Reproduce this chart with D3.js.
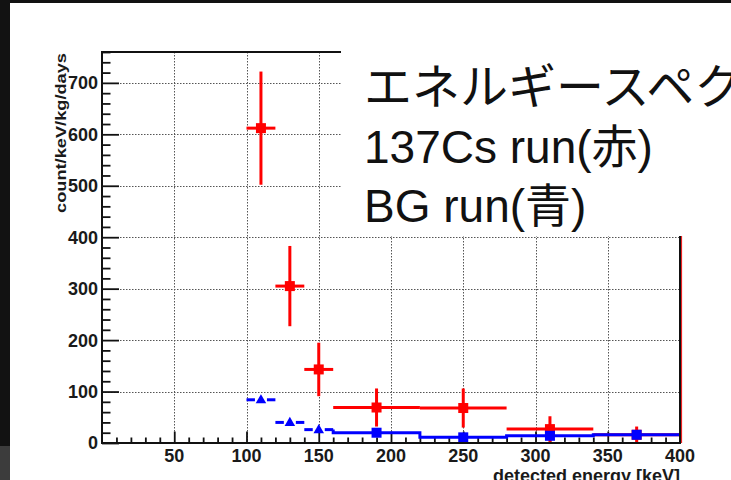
<!DOCTYPE html>
<html>
<head>
<meta charset="utf-8">
<script src="https://cdn.jsdelivr.net/npm/d3@7"></script>
<style>
  html, body { margin: 0; padding: 0; background: #fff; overflow: hidden; }
  svg { display: block; }
</style>
</head>
<body>
<svg id="chart"></svg>
<script>
// 137Cs run (red): bins and values
const redLo = [100, 120, 140, 160, 220, 280, 340]
const redHi = [120, 140, 160, 220, 280, 340, 400]
const redVal = [612, 305, 143, 69, 68, 27, 16]
const redErr = [110, 78, 52, 37, 38, 25, 16]

// BG run (blue)
const blueLo = [100, 120, 140, 160, 220, 280, 340]
const blueHi = [120, 140, 160, 220, 280, 340, 400]
const blueVal = [84, 40, 26, 20, 11, 14, 16]

const xTicks = [50, 100, 150, 200, 250, 300, 350, 400]
const yTicks = [0, 100, 200, 300, 400, 500, 600, 700]
const legendLines = ['エネルギースペクトル', '137Cs run(赤)', 'BG run(青)']

const width = 731
const height = 480
const frame = { left: 102, right: 680, top: 52, bottom: 443 }

const svg = d3.select('#chart').attr('width', width).attr('height', height)

// slide background edges
svg.append('rect').attr('x', 0).attr('y', 0).attr('width', width).attr('height', 3).attr('fill', '#111')
svg.append('rect').attr('x', 0).attr('y', 0).attr('width', 10).attr('height', height).attr('fill', '#121212')
svg.append('rect').attr('x', 0).attr('y', 446).attr('width', 10).attr('height', 34).attr('fill', '#3c3c3c')

const x = d3.scaleLinear().domain([0, 400]).range([frame.left, frame.right])
const y = d3.scaleLinear().domain([0, 760]).range([frame.bottom, frame.top])

const fontB = '"Liberation Sans", Arial, Helvetica, sans-serif'

// grid
const grid = svg.append('g').attr('stroke', '#555').attr('stroke-width', 1).attr('stroke-dasharray', '1.5,1.5')
grid.selectAll('.gx').data(xTicks.filter(d => d < 400)).enter().append('line')
    .attr('x1', d => Math.round(x(d)) + 0.5).attr('x2', d => Math.round(x(d)) + 0.5)
    .attr('y1', frame.top).attr('y2', frame.bottom)
grid.selectAll('.gy').data(yTicks.filter(d => d > 0)).enter().append('line')
    .attr('y1', d => Math.round(y(d)) + 0.5).attr('y2', d => Math.round(y(d)) + 0.5)
    .attr('x1', frame.left).attr('x2', frame.right)

// axes (ticks inside the frame)
const yAxis = d3.axisRight(y).tickValues(d3.range(0, 761, 20)).tickSize(0).tickFormat('')
const yg = svg.append('g').attr('transform', 'translate(' + frame.left + ',0)').call(yAxis)
yg.select('.domain').remove()
yg.selectAll('.tick line')
    .attr('x2', d => d % 100 === 0 ? 17 : 8.5)
    .attr('stroke', '#111').attr('stroke-width', 1.8)

const xAxis = d3.axisTop(x).tickValues(d3.range(10, 400, 10)).tickSize(0).tickFormat('')
const xg = svg.append('g').attr('transform', 'translate(0,' + frame.bottom + ')').call(xAxis)
xg.select('.domain').remove()
xg.selectAll('.tick line')
    .attr('y2', d => d % 50 === 0 ? -11.5 : -5.5)
    .attr('stroke', '#111').attr('stroke-width', 1.8)

// tick labels
svg.append('g').selectAll('text').data(yTicks).enter().append('text')
    .attr('x', 98).attr('y', d => y(d)).attr('dy', '0.36em')
    .attr('text-anchor', 'end').attr('font-family', fontB).attr('font-weight', 'bold')
    .attr('font-size', 18).attr('fill', '#1a1a1a').text(d => d)

svg.append('g').selectAll('text').data(xTicks).enter().append('text')
    .attr('x', d => x(d)).attr('y', 462)
    .attr('text-anchor', 'middle').attr('font-family', fontB).attr('font-weight', 'bold')
    .attr('font-size', 18).attr('fill', '#1a1a1a').text(d => d)

// axis titles
svg.append('text')
    .attr('transform', 'translate(66,53) rotate(-90)')
    .attr('text-anchor', 'end').attr('font-family', fontB).attr('font-weight', 'bold')
    .attr('font-size', 14.5).attr('textLength', 160).attr('lengthAdjust', 'spacingAndGlyphs')
    .attr('fill', '#1a1a1a').text('count/keV/kg/days')

svg.append('text')
    .attr('x', frame.right).attr('y', 482)
    .attr('text-anchor', 'end').attr('font-family', fontB).attr('font-weight', 'bold')
    .attr('font-size', 18).attr('fill', '#1a1a1a').text('detected energy [keV]')

// red histogram outline at zero
svg.append('line').attr('x1', x(0)).attr('x2', x(400)).attr('y1', y(0) - 0.5).attr('y2', y(0) - 0.5)
    .attr('stroke', '#f33').attr('stroke-width', 1)

// red points with error bars
const red = redVal.map((v, i) => ({ lo: redLo[i], hi: redHi[i], v: v, e: redErr[i] }))
const rg = svg.append('g').attr('stroke', '#ff0000').attr('stroke-width', 3)
rg.selectAll('.h').data(red).enter().append('line')
    .attr('x1', d => x(d.lo)).attr('x2', d => x(d.hi))
    .attr('y1', d => y(d.v)).attr('y2', d => y(d.v))
rg.selectAll('.v').data(red).enter().append('line')
    .attr('x1', d => x((d.lo + d.hi) / 2)).attr('x2', d => x((d.lo + d.hi) / 2))
    .attr('y1', d => y(Math.max(0, d.v - d.e))).attr('y2', d => y(d.v + d.e))
svg.append('g').selectAll('rect').data(red).enter().append('rect')
    .attr('x', d => x((d.lo + d.hi) / 2) - 5).attr('y', d => y(d.v) - 5)
    .attr('width', 10).attr('height', 10).attr('fill', '#ff0000')

// blue
const blue = blueVal.map((v, i) => ({ lo: blueLo[i], hi: blueHi[i], v: v }))
const fine = blue.filter(d => d.hi - d.lo <= 20)
const coarse = blue.filter(d => d.hi - d.lo > 20)
const bg = svg.append('g').attr('stroke', '#0000ff').attr('stroke-width', 3).attr('fill', 'none')
fine.forEach(d => {
    const cx = x((d.lo + d.hi) / 2)
    bg.append('line').attr('x1', x(d.lo)).attr('x2', cx - 6).attr('y1', y(d.v)).attr('y2', y(d.v))
    bg.append('line').attr('x1', cx + 6).attr('x2', x(d.hi)).attr('y1', y(d.v)).attr('y2', y(d.v))
})
// step line over the coarse bins, joined to the last fine bin
const last = fine[fine.length - 1]
const steps = [[last.hi, last.v]]
coarse.forEach(d => { steps.push([d.lo, d.v]) })
steps.push([coarse[coarse.length - 1].hi, coarse[coarse.length - 1].v])
bg.append('path')
    .attr('d', d3.line().x(d => x(d[0])).y(d => y(d[1])).curve(d3.curveStepAfter)(steps))

svg.append('g').selectAll('path').data(fine).enter().append('path')
    .attr('d', d3.symbol().type(d3.symbolTriangle).size(48))
    .attr('transform', d => 'translate(' + x((d.lo + d.hi) / 2) + ',' + (y(d.v) + 0.5) + ')')
    .attr('fill', '#0000ff')
svg.append('g').selectAll('rect').data(coarse).enter().append('rect')
    .attr('x', d => x((d.lo + d.hi) / 2) - 5).attr('y', d => y(d.v) - 5)
    .attr('width', 10).attr('height', 10).attr('fill', '#0000ff')

// frame, with the red histogram edge just outside on the right
svg.append('line').attr('x1', x(400) + 1.5).attr('x2', x(400) + 1.5).attr('y1', frame.top).attr('y2', frame.bottom)
    .attr('stroke', '#e22').attr('stroke-width', 1.2)
svg.append('rect')
    .attr('x', frame.left).attr('y', frame.top)
    .attr('width', frame.right - frame.left).attr('height', frame.bottom - frame.top)
    .attr('fill', 'none').attr('stroke', '#111').attr('stroke-width', 2)

// legend text box covering the upper right
svg.append('rect').attr('x', 341).attr('y', 30).attr('width', width - 341).attr('height', 206).attr('fill', '#fff')
svg.append('g').selectAll('text').data(legendLines).enter().append('text')
    .attr('x', 364).attr('y', (d, i) => 104 + i * 59)
    .attr('font-family', '"Liberation Sans", Arial, "Noto Sans CJK JP", sans-serif')
    .attr('font-size', (d, i) => i === 0 ? 48 : 46).attr('fill', '#111').text(d => d)
</script>
</body>
</html>
